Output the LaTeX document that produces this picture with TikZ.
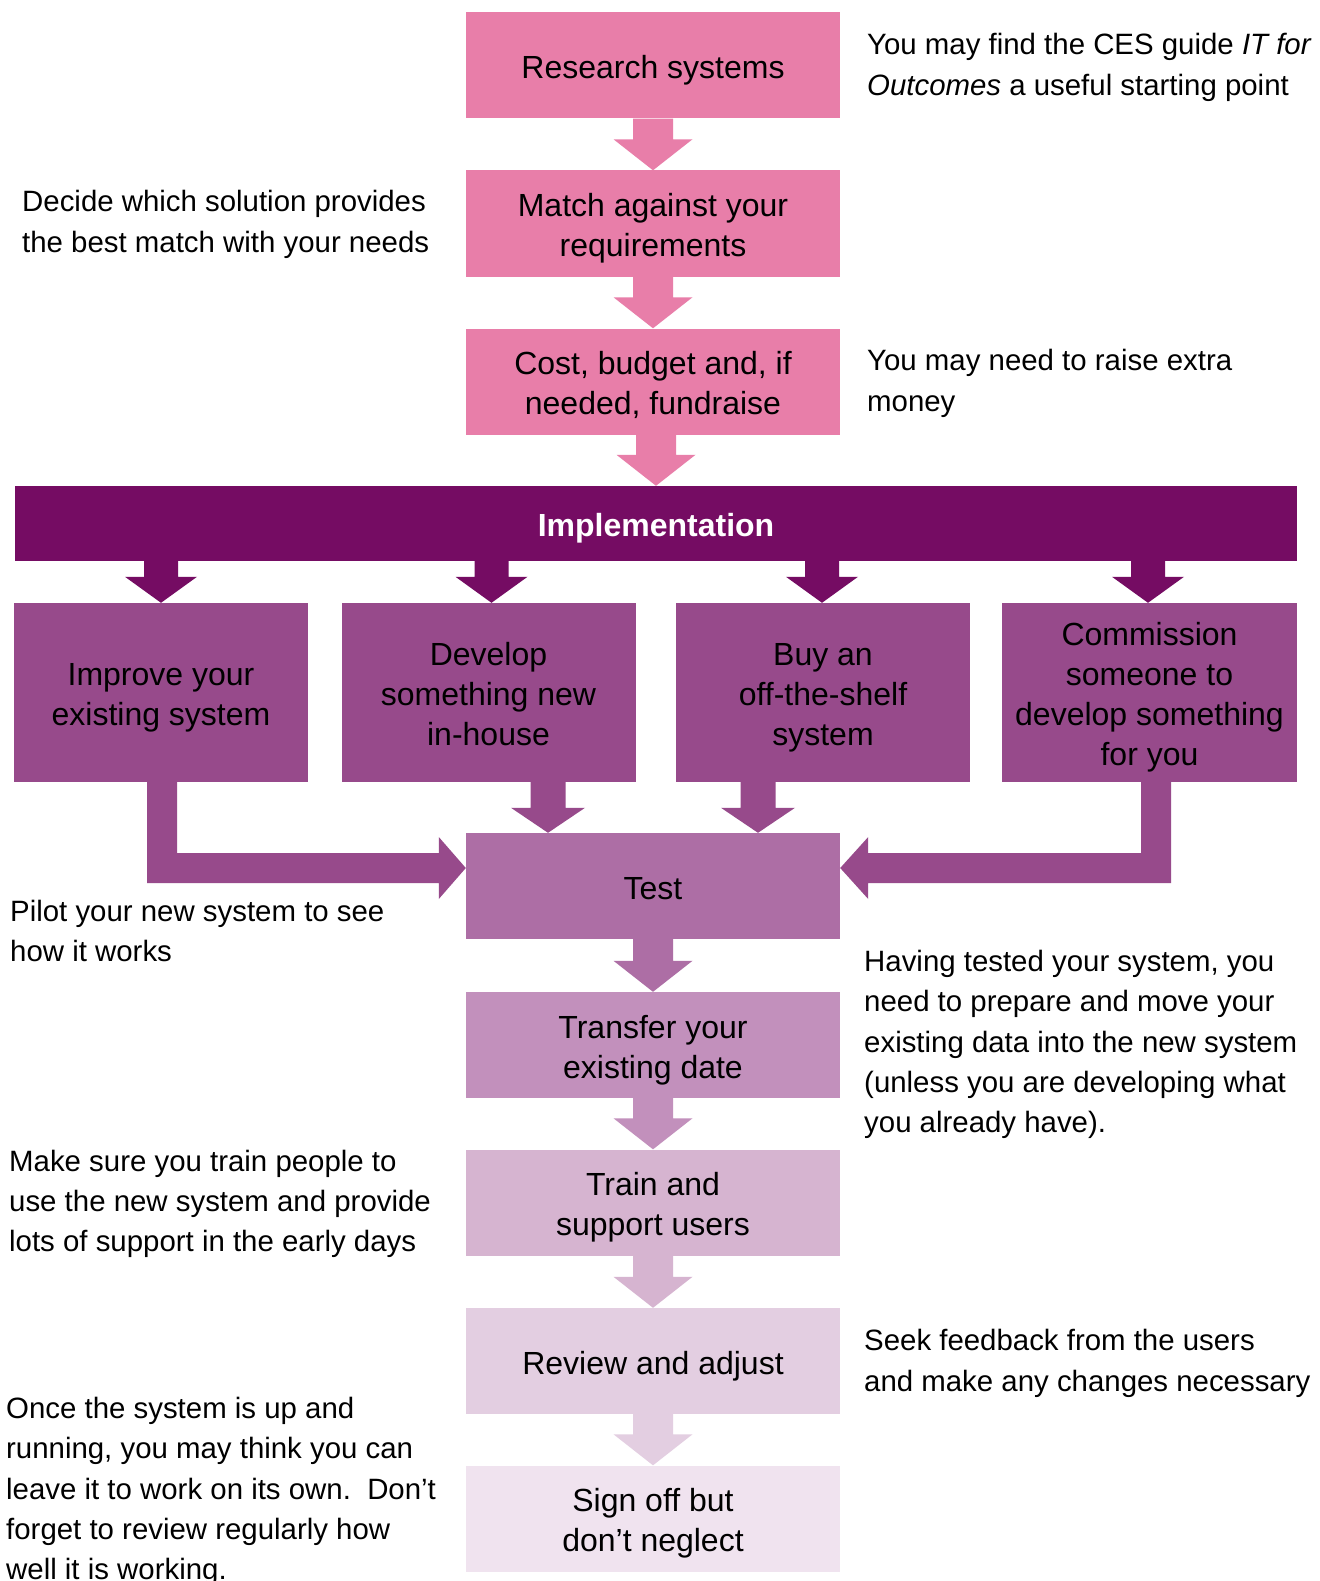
\documentclass[tikz,border=0pt]{standalone}
\usepackage{fontspec}
\setmainfont{Liberation Sans}
\usetikzlibrary{calc}
\definecolor{pinkc}{HTML}{E87EA9}
\definecolor{implc}{HTML}{750C63}
\definecolor{optc}{HTML}{974A8B}
\definecolor{testc}{HTML}{AD6EA5}
\definecolor{transc}{HTML}{C290BC}
\definecolor{trainc}{HTML}{D6B4D0}
\definecolor{reviewc}{HTML}{E3CEE1}
\definecolor{signc}{HTML}{F0E3EF}
\newcommand{\topstrut}{\rule{0pt}{36pt}}
\newcommand{\botstrut}{\rule[-10pt]{0pt}{10pt}}
\tikzset{
  box/.style={rectangle, inner sep=0pt, minimum width=374pt, minimum height=106pt, align=center,
    font=\fontsize{32}{40}\selectfont, text=black,
    execute at begin node=\topstrut, execute at end node=\botstrut},
  optbox/.style={box, minimum width=294pt, minimum height=179pt, fill=optc},
  note/.style={anchor=west, align=left, inner sep=0pt, font=\fontsize{29.4}{40.3}\selectfont, text=black},
}
% #1 top coordinate, #2 tip coordinate, #3 colour, #4 half shaft, #5 half head, #6 head height
\newcommand{\bdown}[6]{%
  \fill[#3] let \p1=(#1), \p2=(#2) in
   (\x2-#4,\y1) -- (\x2+#4,\y1) -- (\x2+#4,\y2+#6) -- (\x2+#5,\y2+#6) -- (\x2,\y2)
   -- (\x2-#5,\y2+#6) -- (\x2-#4,\y2+#6) -- cycle;}
% L arrow pointing right: #1 source node, #2 target node, #3 x offset of shaft
\newcommand{\lright}[3]{%
  \fill[optc] let \p1=($(#1.south)+(#3,0)$), \p2=(#2.west) in
   (\x1-15pt,\y1) -- (\x1+15pt,\y1) -- (\x1+15pt,\y2+33pt) -- (\x2-27pt,\y2+33pt)
   -- (\x2-27pt,\y2+49pt) -- (\x2,\y2+18pt) -- (\x2-27pt,\y2-13pt) -- (\x2-27pt,\y2+3pt)
   -- (\x1-15pt,\y2+3pt) -- cycle;}
% L arrow pointing left
\newcommand{\lleft}[3]{%
  \fill[optc] let \p1=($(#1.south)+(#3,0)$), \p2=(#2.east) in
   (\x1+15pt,\y1) -- (\x1-15pt,\y1) -- (\x1-15pt,\y2+33pt) -- (\x2+28pt,\y2+33pt)
   -- (\x2+28pt,\y2+49pt) -- (\x2,\y2+18pt) -- (\x2+28pt,\y2-13pt) -- (\x2+28pt,\y2+3pt)
   -- (\x1+15pt,\y2+3pt) -- cycle;}
\begin{document}
\begin{tikzpicture}[x=1pt,y=-1pt]
\useasboundingbox[fill=white] (0,0) rectangle (1319,1581);
% main column
\node[box, fill=pinkc] (research) at (653,65.5) {Research systems};
\node[box, fill=pinkc] (match) at (653,223.5) {\topstrut Match against your\\requirements\botstrut};
\node[box, fill=pinkc] (cost) at (653,381.5) {\topstrut Cost, budget and, if\\needed, fundraise\botstrut};
\node[box, fill=implc, minimum width=1282pt, minimum height=75pt,
      font=\fontsize{32}{40}\selectfont\bfseries, text=white] (impl) at (656,523.5) {Implementation};
\node[optbox] (improve) at (161,692.5) {\topstrut Improve your\\existing system\botstrut};
\node[optbox] (develop) at (488.5,692.5) {\topstrut Develop\\something new\\in-house\botstrut};
\node[optbox] (buy) at (823,692.5) {\topstrut Buy an\\off-the-shelf\\system\botstrut};
\node[optbox, minimum width=295pt] (commission) at (1149.5,692.5) {\topstrut Commission\\someone to\\develop something\\for you\botstrut};
\node[box, fill=testc] (test) at (653,886) {Test};
\node[box, fill=transc] (transfer) at (653,1045) {\topstrut Transfer your\\existing date\botstrut};
\node[box, fill=trainc] (train) at (653,1202.5) {\topstrut Train and\\support users\botstrut};
\node[box, fill=reviewc] (review) at (653,1361) {Review and adjust};
\node[box, fill=signc] (sign) at (653,1518.5) {\topstrut Sign off but\\don’t neglect\botstrut};
% arrows
\bdown{research.south}{match.north}{pinkc}{20pt}{39.5pt}{31pt}
\bdown{match.south}{cost.north}{pinkc}{20pt}{39.5pt}{31pt}
\bdown{cost.south}{impl.north}{pinkc}{20pt}{39.5pt}{31pt}
\bdown{impl.south}{$(improve.north)+(0,0)$}{implc}{17pt}{36pt}{26pt}
\bdown{impl.south}{$(develop.north)+(3,0)$}{implc}{17pt}{36pt}{26pt}
\bdown{impl.south}{$(buy.north)+(-1,0)$}{implc}{17pt}{36pt}{26pt}
\bdown{impl.south}{$(commission.north)+(-1.5,0)$}{implc}{17pt}{36pt}{26pt}
\bdown{develop.south}{$(test.north)+(-105,0)$}{optc}{17.5pt}{37pt}{25pt}
\bdown{buy.south}{$(test.north)+(105,0)$}{optc}{17.5pt}{37pt}{25pt}
\lright{improve}{test}{1}
\lleft{commission}{test}{6.5}
\bdown{test.south}{transfer.north}{testc}{20pt}{39.5pt}{31pt}
\bdown{transfer.south}{train.north}{transc}{20pt}{39.5pt}{31pt}
\bdown{train.south}{review.north}{trainc}{20pt}{39.5pt}{31pt}
\bdown{review.south}{sign.north}{reviewc}{20pt}{39.5pt}{31pt}
% notes
\node[note] (n1) at (867,67.5) {You may find the CES guide \textit{IT for}\\\textit{Outcomes} a useful starting point};
\node[note] (n2) at (22,224.5) {Decide which solution provides\\the best match with your needs};
\node[note] (n3) at (867,383.5) {You may need to raise extra\\money};
\node[note] (n4) at (10,931) {Pilot your new system to see\\how it works};
\node[note] (n5) at (864,1044.5) {Having tested your system, you\\need to prepare and move your\\existing data into the new system\\(unless you are developing what\\you already have).};
\node[note] (n6) at (9,1204) {Make sure you train people to\\use the new system and provide\\lots of support in the early days};
\node[note] (n7) at (864,1363.5) {Seek feedback from the users\\and make any changes necessary};
\node[note] (n8) at (6,1491.5) {Once the system is up and\\running, you may think you can\\leave it to work on its own.\ \ Don’t\\forget to review regularly how\\well it is working.};
\end{tikzpicture}
\end{document}
